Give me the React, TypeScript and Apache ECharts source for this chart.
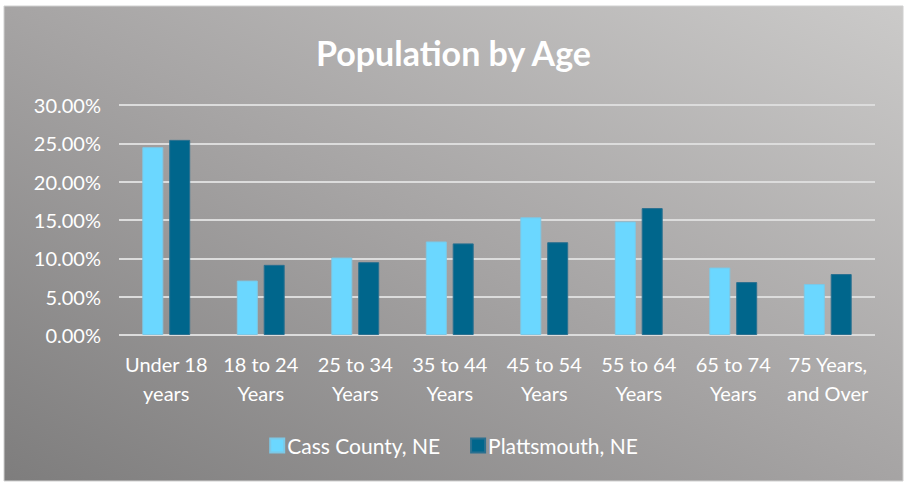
import React, { useEffect, useRef } from "react";
import * as echarts from "echarts";

const categories = [
  "Under 18\nyears",
  "18 to 24\nYears",
  "25 to 34\nYears",
  "35 to 44\nYears",
  "45 to 54\nYears",
  "55 to 64\nYears",
  "65 to 74\nYears",
  "75 Years,\nand Over",
];
const cassCounty = [24.5, 7.1, 10.1, 12.2, 15.35, 14.8, 8.8, 6.65];
const plattsmouth = [25.45, 9.15, 9.5, 11.95, 12.1, 16.55, 6.9, 7.95];
const seriesNames = ["Cass County, NE", "Plattsmouth, NE"];

const FONT = "Lato, 'Open Sans', sans-serif";

export default function App() {
  const ref = useRef<HTMLDivElement>(null);
  useEffect(() => {
    document.body.style.margin = "0";
    const chart = echarts.init(ref.current!, null, { renderer: "svg" });
    chart.setOption({
      animation: false,
      backgroundColor: "#ffffff",
      graphic: [
        {
          type: "rect",
          z: -10,
          shape: { x: 4, y: 6, width: 899, height: 475 },
          style: {
            fill: new echarts.graphic.LinearGradient(0, 1, 1, 0, [
              { offset: 0, color: "#7e7d7d" },
              { offset: 0.5, color: "#a6a4a4" },
              { offset: 1, color: "#cbcac9" },
            ]),
            stroke: "#d0d0d0",
            lineWidth: 1,
          },
        },
      ],
      title: {
        text: "Population by Age",
        left: "center",
        top: 30,
        textStyle: {
          color: "#ffffff",
          fontSize: 34,
          fontWeight: "bold",
          fontFamily: FONT,
        },
      },
      legend: {
        bottom: 24,
        left: "center",
        itemWidth: 14,
        itemHeight: 14,
        itemGap: 30,
        icon: "rect",
        textStyle: { color: "#ffffff", fontSize: 21, fontFamily: FONT, padding: [0, 0, 0, -2] },
        data: seriesNames,
      },
      grid: { left: 119, right: 32, top: 105, bottom: 150, containLabel: false },
      xAxis: {
        type: "category",
        data: categories,
        axisLine: { show: false },
        axisTick: { show: false },
        axisLabel: {
          color: "#ffffff",
          fontSize: 20,
          fontFamily: FONT,
          lineHeight: 29,
          margin: 14,
          interval: 0,
        },
      },
      yAxis: {
        type: "value",
        min: 0,
        max: 30,
        interval: 5,
        axisLine: { show: false },
        axisTick: { show: false },
        axisLabel: {
          color: "#ffffff",
          fontSize: 20,
          fontFamily: FONT,
          margin: 18,
          formatter: (v: number) => v.toFixed(2) + "%",
        },
        splitLine: { lineStyle: { color: "#dcdcdc", width: 2 } },
      },
      series: [
        {
          name: seriesNames[0],
          type: "bar",
          data: cassCounty,
          barWidth: 21,
          barGap: "28%",
          itemStyle: { color: "#6bd7ff", borderColor: "#7cc8e6", borderWidth: 1 },
        },
        {
          name: seriesNames[1],
          type: "bar",
          data: plattsmouth,
          barWidth: 21,
          itemStyle: { color: "#00668c", borderColor: "#2a7090", borderWidth: 1 },
        },
      ],
    });
    return () => chart.dispose();
  }, []);
  return <div ref={ref} style={{ width: 907, height: 485 }} />;
}
